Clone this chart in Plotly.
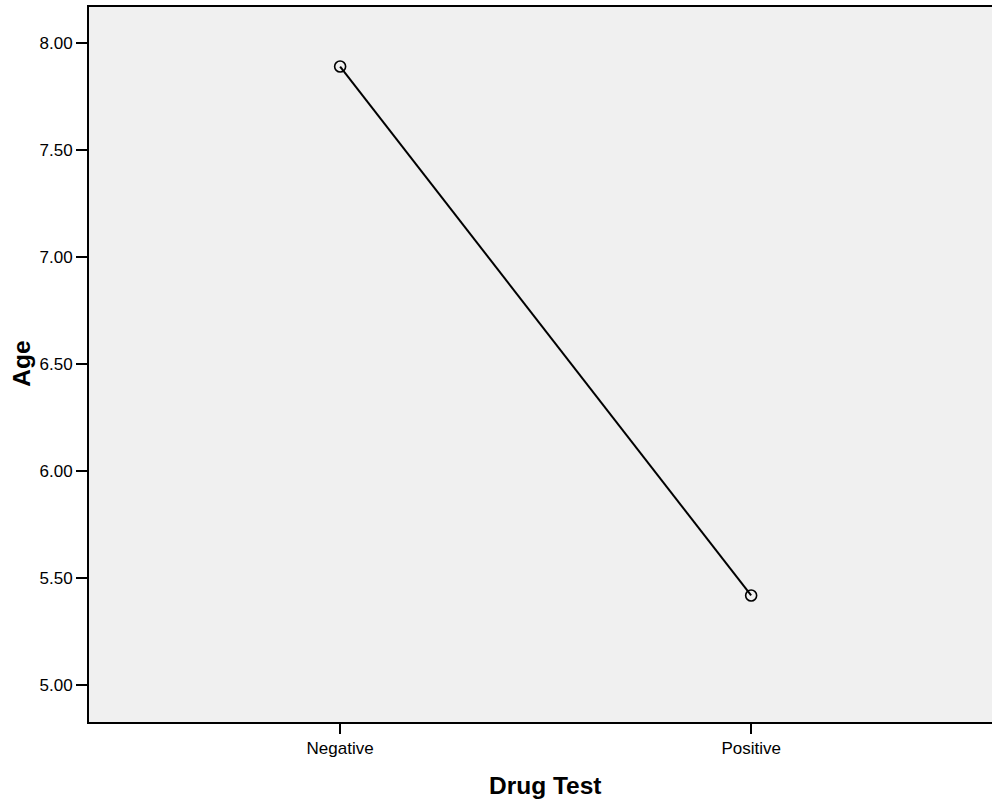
import plotly.graph_objects as go

categories = ["Negative", "Positive"]
mean_age = [7.89, 5.42]
y_tick_vals = [5.0, 5.5, 6.0, 6.5, 7.0, 7.5, 8.0]
y_tick_text = ["5.00", "5.50", "6.00", "6.50", "7.00", "7.50", "8.00"]

fig = go.Figure()
fig.add_trace(go.Scatter(
    x=categories, y=mean_age, mode="lines+markers",
    line=dict(color="black", width=2),
    marker=dict(symbol="circle-open", size=11, color="black", line=dict(width=1.6)),
    showlegend=False, cliponaxis=False, hoverinfo="skip",
))

fig.update_layout(
    width=992, height=805,
    margin=dict(l=89, r=0, t=7, b=83),
    paper_bgcolor="white", plot_bgcolor="#F0F0F0",
    font=dict(family="Liberation Sans, Arial, sans-serif", color="black", size=17),
    xaxis=dict(
        type="category", range=[-0.611, 1.586],
        showgrid=False, zeroline=False,
        showline=True, linecolor="black", linewidth=2, mirror=True,
        ticks="outside", ticklen=10, tickwidth=2, tickcolor="black",
        tickfont=dict(size=17),
    ),
    yaxis=dict(
        range=[4.829, 8.168],
        tickvals=y_tick_vals, ticktext=y_tick_text,
        showgrid=False, zeroline=False,
        showline=True, linecolor="black", linewidth=2,
        ticks="outside", ticklen=11, tickwidth=2, tickcolor="black",
        tickfont=dict(size=17),
    ),
    annotations=[
        dict(text="<b>Drug Test</b>", xref="paper", yref="paper", x=0.505, y=-0.0884,
             xanchor="center", yanchor="middle", showarrow=False, font=dict(size=24.5)),
        dict(text="<b>Age</b>", xref="paper", yref="paper", x=-0.0742, y=0.501,
             xanchor="center", yanchor="middle", showarrow=False, textangle=-90,
             font=dict(size=24.5)),
    ],
)

fig.write_html("out.html", config={"displayModeBar": False},
               post_script="document.body.style.margin='0';document.body.style.overflow='hidden';")
